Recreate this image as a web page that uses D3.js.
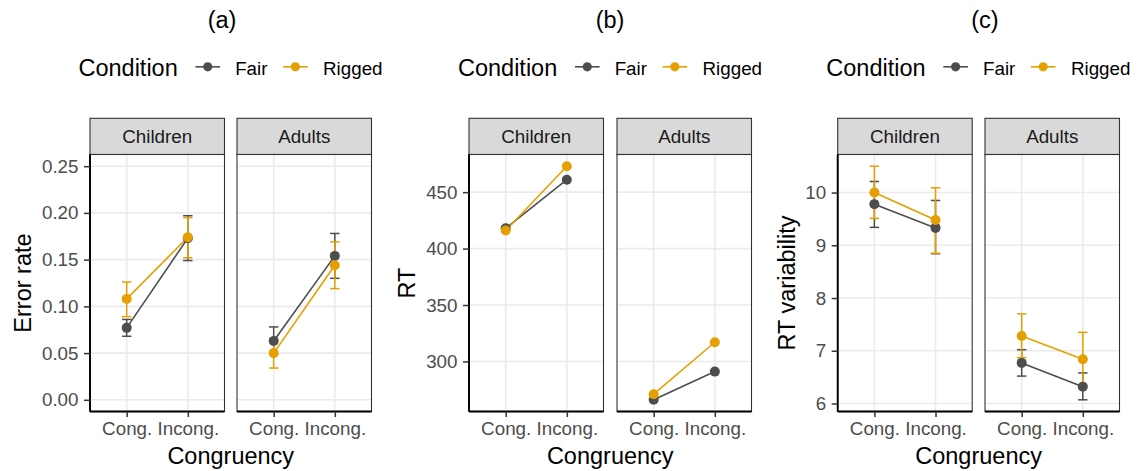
<!DOCTYPE html>
<html>
<head>
<meta charset="utf-8">
<script src="https://cdn.jsdelivr.net/npm/d3@7"></script>
<style>
  body { margin: 0; background: #ffffff; }
  svg { display: block; }
  text { font-family: "Liberation Sans", Arial, Helvetica, sans-serif; }
</style>
</head>
<body>
<svg id="chart" width="1137" height="471"></svg>
<script>
// ---- data ---------------------------------------------------------------
const groups = ["Children", "Adults"];
const congruency = ["Cong.", "Incong."];
const conditions = ["Fair", "Rigged"];

// value order in every series: Children-Cong, Children-Incong, Adults-Cong, Adults-Incong
const errorFair      = [0.077, 0.173, 0.063, 0.154];
const errorFairLo    = [0.068, 0.149, 0.049, 0.130];
const errorFairHi    = [0.086, 0.197, 0.078, 0.178];
const errorRigged    = [0.108, 0.174, 0.050, 0.144];
const errorRiggedLo  = [0.089, 0.152, 0.034, 0.119];
const errorRiggedHi  = [0.126, 0.195, 0.066, 0.169];

const rtFair   = [418, 461, 266, 291];
const rtRigged = [416, 473, 271, 317];

const varFair      = [9.78, 9.33, 6.77, 6.32];
const varFairLo    = [9.34, 8.84, 6.52, 6.07];
const varFairHi    = [10.21, 9.85, 7.02, 6.58];
const varRigged    = [10.00, 9.48, 7.28, 6.84];
const varRiggedLo  = [9.51, 8.85, 6.87, 6.33];
const varRiggedHi  = [10.50, 10.09, 7.70, 7.35];

const errorTicks = [0, 0.05, 0.10, 0.15, 0.20, 0.25];
const rtTicks    = [300, 350, 400, 450];
const varTicks   = [6, 7, 8, 9, 10];

const plotTitles = ["(a)", "(b)", "(c)"];
const yTitles    = ["Error rate", "RT", "RT variability"];
const xTitle     = "Congruency";
const legendTitle = "Condition";

// ---- style ---------------------------------------------------------------
const colors = { Fair: "#4D4D4D", Rigged: "#E69F00" };
const BIG = 23.5, SMALL = 18.8;
const panelTop = 154.5, panelBottom = 411.5, stripTop = 118.3;
const panelW = 134.5;

const svg = d3.select("#chart");

function seriesRows(mean, lo, hi) {
  return mean.map((v, i) => ({
    group: groups[Math.floor(i / 2)],
    cong: congruency[i % 2],
    v: v,
    lo: lo ? lo[i] : null,
    hi: hi ? hi[i] : null
  }));
}

function drawPlot(cfg) {
  const g = svg.append("g");
  const y = d3.scaleLinear().domain(cfg.domain).range([panelBottom, panelTop]);

  // title
  g.append("text").attr("x", cfg.titleX).attr("y", 28.4)
    .attr("text-anchor", "middle").attr("font-size", BIG).attr("fill", "#000")
    .text(cfg.title);

  // legend, centred over the panels
  const legCenter = (cfg.lefts[0] + cfg.lefts[1] + panelW) / 2;
  const leg = g.append("g").attr("transform", `translate(${legCenter - 152.3},0)`);
  leg.append("text").attr("x", 0).attr("y", 75.8).attr("font-size", BIG)
    .attr("fill", "#000").text(legendTitle);
  const keyX = { Fair: 117, Rigged: 204.6 };
  const labX = { Fair: 156.7, Rigged: 244.6 };
  conditions.forEach(c => {
    leg.append("line").attr("x1", keyX[c]).attr("x2", keyX[c] + 24.6)
      .attr("y1", 66.8).attr("y2", 66.8)
      .attr("stroke", colors[c]).attr("stroke-width", 1.6);
    leg.append("circle").attr("cx", keyX[c] + 12.3).attr("cy", 66.8).attr("r", 4.6)
      .attr("fill", colors[c]);
    leg.append("text").attr("x", labX[c]).attr("y", 75.2).attr("font-size", SMALL)
      .attr("fill", "#000").text(c);
  });

  // y-axis title
  const midY = (panelTop + panelBottom) / 2;
  g.append("text")
    .attr("transform", `translate(${cfg.yTitleX},${midY}) rotate(-90)`)
    .attr("text-anchor", "middle").attr("font-size", BIG).attr("fill", "#000")
    .text(cfg.yTitle);

  // x-axis title
  const xMid = (cfg.lefts[0] + cfg.lefts[1] + panelW) / 2;
  g.append("text").attr("x", xMid).attr("y", 463.8)
    .attr("text-anchor", "middle").attr("font-size", BIG).attr("fill", "#000")
    .text(xTitle);

  groups.forEach((grp, gi) => {
    const left = cfg.lefts[gi];
    const x = d3.scalePoint().domain(congruency)
      .range([left, left + panelW]).padding(0.6);
    const p = g.append("g");

    // strip
    p.append("rect").attr("x", left).attr("y", stripTop)
      .attr("width", panelW).attr("height", panelTop - stripTop)
      .attr("fill", "#D9D9D9").attr("stroke", "#333333").attr("stroke-width", 1.1);
    p.append("text").attr("x", left + panelW / 2).attr("y", 143.4)
      .attr("text-anchor", "middle").attr("font-size", SMALL).attr("fill", "#1A1A1A")
      .text(grp);

    // panel background + grid
    p.append("rect").attr("x", left).attr("y", panelTop)
      .attr("width", panelW).attr("height", panelBottom - panelTop).attr("fill", "#fff");
    p.selectAll(".hgrid").data(cfg.ticks).join("line")
      .attr("x1", left).attr("x2", left + panelW)
      .attr("y1", d => y(d)).attr("y2", d => y(d))
      .attr("stroke", "#EBEBEB").attr("stroke-width", 1.6);
    p.selectAll(".vgrid").data(congruency).join("line")
      .attr("x1", d => x(d)).attr("x2", d => x(d))
      .attr("y1", panelTop).attr("y2", panelBottom)
      .attr("stroke", "#EBEBEB").attr("stroke-width", 1.6);

    const series = cfg.series.map(s => ({
      cond: s.cond,
      rows: s.rows.filter(r => r.group === grp)
    }));

    // error bars
    series.forEach(s => {
      s.rows.filter(r => r.lo != null).forEach(r => {
        const cx = x(r.cong), hw = 4.7;
        const eb = p.append("g").attr("stroke", colors[s.cond])
          .attr("stroke-width", 1.5).attr("fill", "none");
        eb.append("line").attr("x1", cx).attr("x2", cx).attr("y1", y(r.lo)).attr("y2", y(r.hi));
        eb.append("line").attr("x1", cx - hw).attr("x2", cx + hw).attr("y1", y(r.lo)).attr("y2", y(r.lo));
        eb.append("line").attr("x1", cx - hw).attr("x2", cx + hw).attr("y1", y(r.hi)).attr("y2", y(r.hi));
      });
    });
    // lines
    const line = d3.line().x(r => x(r.cong)).y(r => y(r.v));
    series.forEach(s => {
      p.append("path").datum(s.rows).attr("d", line)
        .attr("fill", "none").attr("stroke", colors[s.cond]).attr("stroke-width", 1.6);
    });
    // points
    series.forEach(s => {
      p.selectAll(null).data(s.rows).join("circle")
        .attr("cx", r => x(r.cong)).attr("cy", r => y(r.v)).attr("r", 5)
        .attr("fill", colors[s.cond]);
    });

    // panel border
    p.append("rect").attr("x", left).attr("y", panelTop)
      .attr("width", panelW).attr("height", panelBottom - panelTop)
      .attr("fill", "none").attr("stroke", "#333333").attr("stroke-width", 1.1);

    // x axis
    const xa = p.append("g").attr("transform", `translate(0,${panelBottom})`)
      .call(d3.axisBottom(x).tickSize(5.5).tickPadding(5).tickSizeOuter(0));
    xa.select(".domain").attr("stroke", "#000").attr("stroke-width", 1.9)
      .attr("d", `M${left},0H${left + panelW}`);
    xa.selectAll(".tick line").attr("stroke", "#333333").attr("stroke-width", 1.5);
    xa.selectAll(".tick text").attr("font-size", SMALL).attr("fill", "#4D4D4D")
      .attr("font-family", "Liberation Sans, Arial, sans-serif");

    // y axis on the first panel only
    if (gi === 0) {
      const ya = p.append("g").attr("transform", `translate(${left},0)`)
        .call(d3.axisLeft(y).tickValues(cfg.ticks).tickFormat(cfg.fmt)
          .tickSize(6).tickPadding(5.5).tickSizeOuter(0));
      ya.select(".domain").attr("stroke", "#000").attr("stroke-width", 1.9)
        .attr("d", `M0,${panelTop}V${panelBottom}`);
      ya.selectAll(".tick line").attr("stroke", "#333333").attr("stroke-width", 1.5);
      ya.selectAll(".tick text").attr("font-size", SMALL).attr("fill", "#4D4D4D")
        .attr("font-family", "Liberation Sans, Arial, sans-serif");
    }
  });
}

function expand(lo, hi) {
  const pad = (hi - lo) * 0.05;
  return [lo - pad, hi + pad];
}

// (a) error rate, fixed limits 0 – 0.25
drawPlot({
  title: plotTitles[0], yTitle: yTitles[0], titleX: 222, yTitleX: 31,
  lefts: [90, 237],
  domain: expand(0, 0.25),
  ticks: errorTicks, fmt: d3.format(".2f"),
  series: [
    { cond: "Fair",   rows: seriesRows(errorFair, errorFairLo, errorFairHi) },
    { cond: "Rigged", rows: seriesRows(errorRigged, errorRiggedLo, errorRiggedHi) }
  ]
});

// (b) RT
const rtAll = rtFair.concat(rtRigged);
drawPlot({
  title: plotTitles[1], yTitle: yTitles[1], titleX: 610, yTitleX: 415,
  lefts: [469, 617],
  domain: expand(d3.min(rtAll), d3.max(rtAll)),
  ticks: rtTicks, fmt: d3.format("d"),
  series: [
    { cond: "Fair",   rows: seriesRows(rtFair) },
    { cond: "Rigged", rows: seriesRows(rtRigged) }
  ]
});

// (c) RT variability
const varAll = varFairLo.concat(varFairHi, varRiggedLo, varRiggedHi);
drawPlot({
  title: plotTitles[2], yTitle: yTitles[2], titleX: 985, yTitleX: 795,
  lefts: [837.7, 985],
  domain: expand(d3.min(varAll), d3.max(varAll)),
  ticks: varTicks, fmt: d3.format("d"),
  series: [
    { cond: "Fair",   rows: seriesRows(varFair, varFairLo, varFairHi) },
    { cond: "Rigged", rows: seriesRows(varRigged, varRiggedLo, varRiggedHi) }
  ]
});
</script>
</body>
</html>
